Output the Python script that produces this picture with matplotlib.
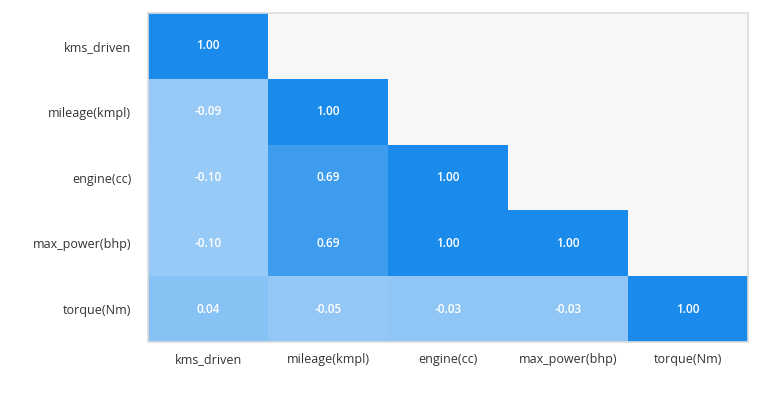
import numpy as np
import matplotlib
matplotlib.use("Agg")
import matplotlib.pyplot as plt
from matplotlib.colors import LinearSegmentedColormap

labels = ["kms_driven", "mileage(kmpl)", "engine(cc)", "max_power(bhp)", "torque(Nm)"]
row_kms = [1.00]
row_mileage = [-0.09, 1.00]
row_engine = [-0.10, 0.69, 1.00]
row_power = [-0.10, 0.69, 1.00, 1.00]
row_torque = [0.04, -0.05, -0.03, -0.03, 1.00]
rows = [row_kms, row_mileage, row_engine, row_power, row_torque]

plt.rcParams['font.family'] = ['Open Sans', 'DejaVu Sans']

n = len(labels)
data = np.full((n, n), np.nan)
for i, r in enumerate(rows):
    for j, v in enumerate(r):
        data[i, j] = v
masked = np.ma.masked_invalid(data)

cmap = LinearSegmentedColormap.from_list("blues", ["#97caf6", "#1a8aeb"])

fig = plt.figure(figsize=(7.78, 3.93), dpi=100)
ax = fig.add_axes([148/778, 1-342/393, 600/778, 329/393])
ax.set_facecolor("#f7f7f7")
ax.pcolormesh(np.arange(n+1), np.arange(n+1), masked, cmap=cmap, vmin=-0.10, vmax=1.0)
ax.set_xlim(0, n)
ax.set_ylim(n, 0)
for i, r in enumerate(rows):
    for j, v in enumerate(r):
        ax.text(j+0.5, i+0.5, f"{v:.2f}", ha="center", va="center", color="white",
                fontsize=8.5, fontweight="semibold")
ax.set_xticks(np.arange(n)+0.5)
ax.set_xticklabels(labels, fontsize=9, color="#333333")
ax.set_yticks(np.arange(n)+0.5)
ax.set_yticklabels(labels, fontsize=9, color="#333333")
ax.tick_params(axis='x', length=0, pad=8)
ax.tick_params(axis='y', length=0, pad=12)
for s in ax.spines.values():
    s.set_color("#dddddd")
    s.set_linewidth(1.2)
fig.savefig("out.png", dpi=100)
